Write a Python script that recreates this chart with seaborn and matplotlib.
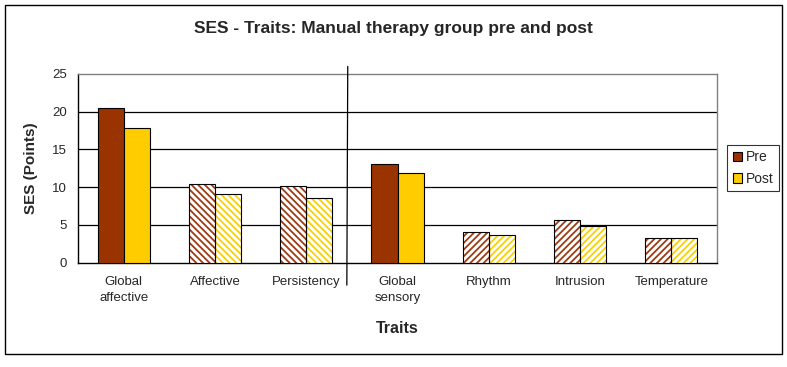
import matplotlib
matplotlib.use("Agg")
import matplotlib.pyplot as plt
from matplotlib.patches import Rectangle
from matplotlib.lines import Line2D
import seaborn as sns
import pandas as pd
import numpy as np

categories = ["Global\naffective", "Affective", "Persistency", "Global\nsensory",
              "Rhythm", "Intrusion", "Temperature"]
pre_values = [20.5, 10.4, 10.1, 13.1, 4.1, 5.6, 3.3]
post_values = [17.8, 9.1, 8.5, 11.9, 3.7, 4.9, 3.3]
series = ["Pre", "Post"]
y_ticks = [0, 5, 10, 15, 20, 25]

# style
colors = {"Pre": "#993300", "Post": "#FFCC00"}
hatch_colors = {"Pre": "#9C3C14", "Post": "#F8D200"}
hatch_by_cat = {"Affective": "\\" * 5, "Persistency": "\\" * 5,
                "Rhythm": "/" * 5, "Intrusion": "/" * 5, "Temperature": "/" * 5}

sns.set_style("white")
plt.rcParams['font.family'] = ['Liberation Sans', 'DejaVu Sans']
plt.rcParams['hatch.linewidth'] = 1.3

df = pd.DataFrame({
    "Trait": categories * 2,
    "Value": pre_values + post_values,
    "Time": ["Pre"] * len(categories) + ["Post"] * len(categories),
})

fig = plt.figure(figsize=(7.87, 3.67), dpi=100)
ax = fig.add_axes([78 / 787, 1 - 262.5 / 367, (717 - 78) / 787, (262.5 - 74) / 367])

sns.barplot(data=df, x="Trait", y="Value", hue="Time", hue_order=series,
            palette=colors, width=0.57, edgecolor="black", linewidth=0.8,
            saturation=1, ax=ax, legend=True, zorder=3)

for container, s in zip(ax.containers, series):
    for bar, cat in zip(container, categories):
        h = hatch_by_cat.get(cat)
        if h:
            bar.set_facecolor("white")
            bar.set_edgecolor(hatch_colors[s])
            bar.set_hatch(h)
            bar.set_linewidth(0)
            ax.add_patch(Rectangle(bar.get_xy(), bar.get_width(), bar.get_height(),
                                   fill=False, edgecolor="black", linewidth=0.8, zorder=4))

ax.set_ylim(0, 25)
ax.set_xlim(-0.5, len(categories) - 0.5)
ax.set_yticks(y_ticks)
ax.set_yticklabels([str(t) for t in y_ticks], fontsize=9.5)
for t in y_ticks[1:-1]:
    ax.axhline(t, color="black", linewidth=0.9, zorder=1)

ax.set_xticks(range(len(categories)))
ax.set_xticklabels(categories, fontsize=9.5, linespacing=1.45)
ax.set_xticks(np.arange(-0.5, len(categories), 1.0), minor=True)
ax.tick_params(axis="x", which="major", length=0, pad=10)
ax.tick_params(axis="x", which="minor", length=5, width=0.8, color="black", direction="out")
ax.tick_params(axis="y", length=5, width=0.8, color="black", direction="out", pad=3)

ax.spines["left"].set_color("black")
ax.spines["bottom"].set_color("black")
ax.spines["top"].set_color("#808080")
ax.spines["right"].set_color("#808080")
for sp in ax.spines.values():
    sp.set_linewidth(1.0)

ax.set_xlabel("Traits", fontsize=11.5, fontweight="bold", labelpad=12)
ax.set_ylabel("SES (Points)", fontsize=11, fontweight="bold", labelpad=10)

# divider line between affective and sensory groups
ax.add_line(Line2D([2.455, 2.445], [26.0, -3.0], color="black", linewidth=0.9,
                   clip_on=False, zorder=5))

fig.text(0.5, 1 - 28 / 367, "SES - Traits: Manual therapy group pre and post",
         ha="center", va="center", fontsize=12.5, fontweight="bold")

handles, labels = ax.get_legend_handles_labels()
leg = ax.legend(handles, labels, loc="center left",
                bbox_to_anchor=(727 / 787, 1 - 168 / 367), bbox_transform=fig.transFigure,
                fontsize=10, frameon=True, fancybox=False, edgecolor="black",
                handlelength=0.65, handleheight=0.65, handletextpad=0.3,
                borderpad=0.4, labelspacing=0.55, borderaxespad=0)
leg.get_frame().set_linewidth(0.8)
for hnd in leg.legend_handles:
    hnd.set_edgecolor("black")
    hnd.set_linewidth(0.8)

fig.patches.append(Rectangle((5 / 787, 1 - 354 / 367), 777 / 787, 349 / 367,
                             transform=fig.transFigure, fill=False,
                             edgecolor="black", linewidth=1.0))

fig.savefig("out.png", dpi=100)
